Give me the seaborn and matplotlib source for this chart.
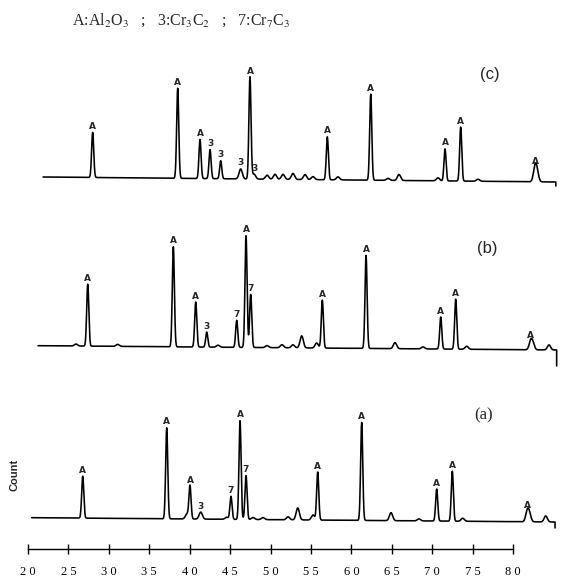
import numpy as np
import pandas as pd
import matplotlib
matplotlib.use("Agg")
import matplotlib.pyplot as plt
import seaborn as sns

# ---------------- data (2-theta in degrees, intensity in arbitrary counts) -------------
c_pos = [28.00, 38.52, 41.28, 42.52, 43.84, 46.31, 47.46, 47.96, 49.57, 50.56, 51.55, 52.78,
         54.27, 55.26, 57.03, 58.35, 62.40, 64.54, 65.90, 70.72, 71.59, 73.53, 75.67, 82.72, 82.98]
c_int = [45, 90, 39, 29, 18, 10, 102, 5, 4, 5, 5, 6,
         5, 3, 43, 3, 86, 2, 6, 3, 32, 54, 2, 14, 9]
c_lab = ["A", "A", "A", "3", "3", "3", "A", "3", "", "", "", "",
         "", "", "A", "", "A", "", "", "", "A", "A", "", "A", ""]

b_pos = [25.94, 27.39, 31.10, 37.98, 40.75, 42.11, 43.51, 45.82, 46.97, 47.55, 49.57, 51.42,
         52.78, 53.86, 55.71, 56.41, 61.82, 65.40, 68.87, 71.06, 72.91, 74.27, 82.19, 82.45, 84.45]
b_int = [2, 62, 2, 100, 45, 15, 2, 27, 112, 53, 2, 3,
         3, 12, 5, 48, 93, 6, 2, 32, 50, 3, 8, 6, 5]
b_lab = ["", "A", "", "A", "A", "3", "", "7", "A", "7", "", "",
         "", "", "", "A", "A", "", "", "A", "A", "", "A", "", ""]

a_pos = [26.77, 37.16, 39.67, 40.04, 41.37, 44.58, 45.11, 46.23, 46.97, 47.84, 49.07, 52.17,
         53.37, 55.26, 55.84, 61.28, 64.91, 68.37, 70.56, 72.49, 73.78, 81.77, 82.03, 84.05]
a_int = [42, 91, 5, 33, 7, 2, 23, 99, 44, 2, 2, 3,
         12, 5, 48, 98, 8, 2, 32, 50, 3, 10, 7, 6]
a_lab = ["A", "A", "", "A", "3", "", "7", "A", "7", "", "", "",
         "", "", "A", "A", "", "", "A", "A", "", "A", "", ""]

pattern_names = ["(c)", "(b)", "(a)"]
scan_start = [21.86, 21.24, 20.46]
scan_end = [85.32, 85.40, 85.20]
# baseline level at start / end of each scan, and the final pen drop
base_left = [409.0, 240.3, 68.3]
base_right = [404.0, 236.0, 64.0]
end_drop = [4.0, 16.0, 6.0]

x_ticks = [20, 25, 30, 35, 40, 45, 50, 55, 60, 65, 70, 75, 80]
x_ticklabels = [" ".join(str(t)) for t in x_ticks]

title_text = r"A:Al$_2$O$_3$   ;   3:Cr$_3$C$_2$   ;   7:Cr$_7$C$_3$"

# ---------------- build profiles -------------
peaks = [(c_pos, c_int, c_lab), (b_pos, b_int, b_lab), (a_pos, a_int, a_lab)]

frames = []
for k, (pos, inten, lab) in enumerate(peaks):
    x = np.arange(scan_start[k], scan_end[k], 0.02)
    base = np.interp(x, [scan_start[k], scan_end[k]], [base_left[k], base_right[k]])
    y = base.copy()
    for p, h in zip(pos, inten):
        sig = 0.13 if h >= 15 else 0.2
        y += h * np.exp(-0.5 * ((x - p) / sig) ** 2)
    x = np.append(x, x[-1])
    y = np.append(y, base_right[k] - end_drop[k])
    frames.append(pd.DataFrame({"two_theta": x, "count": y, "pattern": pattern_names[k]}))
df = pd.concat(frames, ignore_index=True)

# ---------------- plot -------------
sns.set_style("white")
plt.rcParams["font.family"] = ["Liberation Serif", "DejaVu Sans"]
plt.rcParams["mathtext.fontset"] = "stix"

fig = plt.figure(figsize=(5.62, 5.86), dpi=100)
ax = fig.add_axes([0, 0, 1, 1])
ax.patch.set_alpha(0)

px_per_deg = 485 / 60.0
ax.set_xlim(20 - 28 / px_per_deg, 20 + 534 / px_per_deg)
ax.set_ylim(0, 586)

for k, name in enumerate(pattern_names):
    sub = df[df["pattern"] == name]
    sns.lineplot(data=sub, x="two_theta", y="count", color="black", linewidth=1.15,
                 estimator=None, sort=False, ax=ax, legend=False)

# peak labels
for k, (pos, inten, lab) in enumerate(peaks):
    for p, h, l in zip(pos, inten, lab):
        if l:
            b = np.interp(p, [scan_start[k], scan_end[k]], [base_left[k], base_right[k]])
            ax.text(p, b + h + 1.5, l, ha="center", va="bottom", fontsize=6.5,
                    family="DejaVu Sans", fontweight="bold")

# axis
for s in ["left", "top", "right"]:
    ax.spines[s].set_visible(False)
ax.spines["bottom"].set_position(("data", 37))
ax.spines["bottom"].set_bounds(20, 80)
ax.spines["bottom"].set_color("black")
ax.spines["bottom"].set_linewidth(1.0)
ax.set_xticks(x_ticks)
ax.set_xticklabels(x_ticklabels)
ax.tick_params(axis="x", direction="inout", length=7, width=1.0, pad=9, labelsize=9,
               colors="black", bottom=True)
ax.set_yticks([])
ax.set_xlabel("")
ax.set_ylabel("")

# texts
fig.text(72 / 562, 1 - 20 / 586, title_text, ha="left", va="center", fontsize=11.5)
fig.text(15 / 562, 1 - 475 / 586, "Count", rotation=90, ha="center", va="center",
         fontsize=8, family="Liberation Sans", fontweight="bold")
panel_xy = [(490, 75), (487, 248), (484, 415)]
panel_font = ["Liberation Sans", "Liberation Sans", "Liberation Serif"]
for (px, py), name, fam in zip(panel_xy, pattern_names, panel_font):
    fig.text(px / 562, 1 - py / 586, name, ha="center", va="center", fontsize=12, family=fam)

fig.savefig("out.png", dpi=100)
